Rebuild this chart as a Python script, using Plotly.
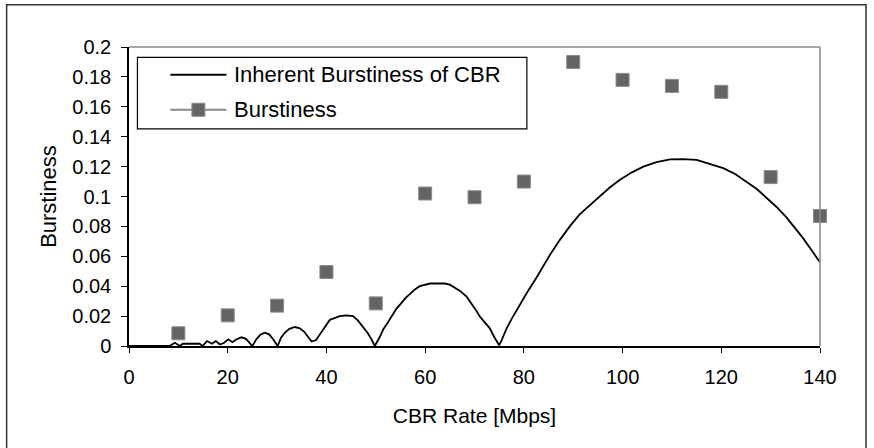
import plotly.graph_objects as go

# Inherent burstiness of a CBR stream, traced along the rate axis
curve_rate = [0, 8.2, 9.3, 10.3, 10.9, 12.5, 14.3, 14.9, 15.8, 16.8, 17.6, 18.4, 19.2,
              20.1, 20.95, 21.8, 22.8, 23.7, 24.5, 25.0, 25.8, 26.6, 27.5, 28.4, 29.2,
              29.7, 30.1, 30.8, 31.6, 32.5, 33.6, 34.6, 35.5, 36.3, 37.0, 37.9, 38.5,
              39.3, 40.0, 40.7, 41.5, 42.7, 44.0, 45.4, 46.4, 47.4, 48.4, 49.2, 49.8,
              50.8, 51.5, 52.5, 53.5, 54.2, 55.0, 56.0, 57.0, 58.0, 58.9, 60.0, 61.0,
              62.5, 64.0, 65.0, 66.0, 67.0, 68.4, 69.5, 70.3, 71.1, 72.1, 73.1, 74.0,
              74.5, 75.0, 75.5, 76.4, 77.5, 78.5, 80.5, 82.6, 85.3, 87.3, 89.3, 91.3,
              93.3, 95.4, 97.4, 99.4, 101.8, 104.2, 106.9, 109.6, 112.3, 115.0, 117.7,
              120.4, 122.8, 125.1, 127.2, 129.2, 131.2, 133.2, 134.9, 136.6, 138.3, 140.0]
curve_burst = [0, 0, 0.0022, 0.0, 0.0015, 0.0015, 0.0015, 0.0, 0.0033, 0.0015, 0.0033, 0.001, 0.002,
               0.0045, 0.0025, 0.0045, 0.0058, 0.0048, 0.002, 0.0, 0.0045, 0.0075, 0.0089, 0.0078, 0.0045,
               0.0015, 0.0, 0.0055, 0.009, 0.0115, 0.0127, 0.0118, 0.0095, 0.006, 0.003, 0.004, 0.007,
               0.011, 0.0145, 0.0175, 0.0185, 0.0200, 0.0205, 0.0200, 0.017, 0.013, 0.0085, 0.004, 0.0,
               0.006, 0.011, 0.016, 0.021, 0.025, 0.028, 0.032, 0.035, 0.038, 0.040, 0.041, 0.0418,
               0.0419, 0.0418, 0.041, 0.039, 0.037, 0.033, 0.028, 0.024, 0.0196, 0.016, 0.0118, 0.006,
               0.003, 0.0005, 0.004, 0.011, 0.018, 0.024, 0.035, 0.046, 0.061, 0.071, 0.080, 0.088,
               0.094, 0.100, 0.106, 0.111, 0.116, 0.120, 0.123, 0.1248, 0.125, 0.1245, 0.122,
               0.119, 0.115, 0.110, 0.105, 0.099, 0.093, 0.086, 0.079, 0.072, 0.064, 0.056]

# Measured burstiness at each CBR rate
rates = [10, 20, 30, 40, 50, 60, 70, 80, 90, 100, 110, 120, 130, 140]
burstiness = [0.0085, 0.0205, 0.027, 0.0495, 0.0285, 0.102, 0.0995, 0.110,
              0.190, 0.178, 0.174, 0.170, 0.113, 0.087]

x_ticks = [0, 20, 40, 60, 80, 100, 120, 140]
y_ticks = [0, 0.02, 0.04, 0.06, 0.08, 0.1, 0.12, 0.14, 0.16, 0.18, 0.2]
y_tick_text = ["0", "0.02", "0.04", "0.06", "0.08", "0.1", "0.12", "0.14", "0.16", "0.18", "0.2"]

series_names = ["Inherent Burstiness of CBR", "Burstiness"]

FONT = "Liberation Sans, Arial, sans-serif"
MARK = "#646464"

fig = go.Figure()
fig.add_trace(go.Scatter(
    x=curve_rate, y=curve_burst, mode="lines", name=series_names[0],
    line=dict(color="black", width=1.8), cliponaxis=False, showlegend=False))
fig.add_trace(go.Scatter(
    x=rates, y=burstiness, mode="markers", name=series_names[1],
    marker=dict(symbol="square", size=13, color=MARK, line=dict(width=1, color="#8c8c8c")),
    cliponaxis=False, showlegend=False))

axis_common = dict(showgrid=False, zeroline=False, tickcolor="black", tickwidth=1)

fig.update_layout(
    width=874, height=448,
    margin=dict(l=129, r=54, t=47, b=102),
    paper_bgcolor="white", plot_bgcolor="white",
    font=dict(family=FONT, color="black"),
    showlegend=False,
    xaxis=dict(range=[0, 140], tickvals=x_ticks, ticks="outside", ticklen=5,
               showline=True, linecolor="black", linewidth=1.5,
               tickfont=dict(size=20), ticklabelstandoff=7,
               title=dict(text="CBR Rate [Mbps]", font=dict(size=21), standoff=22),
               **axis_common),
    yaxis=dict(range=[0, 0.2], tickvals=y_ticks, ticktext=y_tick_text, ticks="outside",
               ticklen=6, showline=True, linecolor="black", linewidth=1.5,
               tickfont=dict(size=20), ticklabelstandoff=6,
               title=dict(text="Burstiness", font=dict(size=22), standoff=10),
               **axis_common),
    # companion axes supply the inner halves of the crossing tick marks
    xaxis2=dict(range=[0, 140], tickvals=x_ticks, ticks="inside", ticklen=4,
                overlaying="x", anchor="y", side="bottom", showticklabels=False,
                showline=False, **axis_common),
    yaxis2=dict(range=[0, 0.2], tickvals=y_ticks, ticks="inside", ticklen=5,
                overlaying="y", anchor="x", side="left", showticklabels=False,
                showline=False, **axis_common),
)

shapes = []
# grey frame on the top and right of the plot area
shapes.append(dict(type="line", xref="paper", yref="paper", x0=0, x1=1, y0=1, y1=1,
                   line=dict(color="#8a8a8a", width=1.5)))
shapes.append(dict(type="line", xref="paper", yref="paper", x0=1, x1=1, y0=0, y1=1,
                   line=dict(color="#8a8a8a", width=1.5)))
# chart border
shapes.append(dict(type="path", xref="paper", yref="paper",
                   path="M -0.1771 -0.36 L -0.1771 1.1416 L 1.0666 1.1416 L 1.0666 -0.36",
                   line=dict(color="#333333", width=1.5)))
# legend box and keys
shapes.append(dict(type="rect", xref="paper", yref="paper",
                   x0=0.0122, x1=0.5758, y0=0.7265, y1=0.9652,
                   line=dict(color="black", width=1.2), fillcolor="white", layer="below"))
shapes.append(dict(type="line", xref="paper", yref="paper", x0=0.0599, x1=0.1410,
                   y0=0.9073, y1=0.9073, line=dict(color="black", width=2)))
shapes.append(dict(type="line", xref="paper", yref="paper", x0=0.0599, x1=0.1410,
                   y0=0.7901, y1=0.7901, line=dict(color="#8a8a8a", width=2)))
shapes.append(dict(type="rect", xref="paper", yref="paper",
                   x0=0.1004 - 0.0094, x1=0.1004 + 0.0094, y0=0.7901 - 0.0218, y1=0.7901 + 0.0218,
                   line=dict(color="#8c8c8c", width=1), fillcolor=MARK))
fig.update_layout(shapes=shapes)

for name, ypos in zip(series_names, [0.9073, 0.7901]):
    fig.add_annotation(x=0.1487, y=ypos, xref="paper", yref="paper", text=name,
                       showarrow=False, xanchor="left", yanchor="middle",
                       font=dict(size=22, family=FONT, color="black"))

fig.write_html("out.html")
